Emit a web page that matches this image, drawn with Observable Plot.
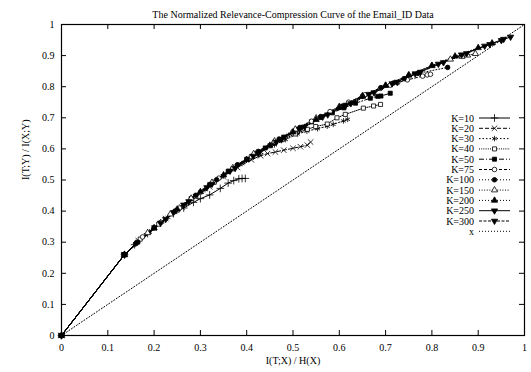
<!DOCTYPE html>
<html>
<head>
<meta charset="utf-8">
<script src="https://cdn.jsdelivr.net/npm/d3@7"></script>
<script src="https://cdn.jsdelivr.net/npm/@observablehq/plot@0.6"></script>
<style>
  html, body { margin: 0; padding: 0; background: #fff; }
  #wrap { position: relative; width: 531px; height: 372px; }
  #wrap svg { position: absolute; left: 0; top: 0; }
</style>
</head>
<body>
<div id="wrap"></div>
<script>
const title = "The Normalized Relevance-Compression Curve of the Email_ID Data";
const xLabel = "I(T;X) / H(X)";
const yLabel = "I(T;Y) / I(X;Y)";
const tickValues = [0, 0.1, 0.2, 0.3, 0.4, 0.5, 0.6, 0.7, 0.8, 0.9, 1];
const tickLabels = ["0", "0.1", "0.2", "0.3", "0.4", "0.5", "0.6", "0.7", "0.8", "0.9", "1"];

const seriesNames = ["K=10", "K=20", "K=30", "K=40", "K=50", "K=75", "K=100", "K=150", "K=200", "K=250", "K=300"];

const K10 = [[0,0],[0.136,0.26],[0.158,0.292],[0.186,0.328],[0.214,0.362],[0.242,0.392],[0.264,0.41],[0.285,0.428],[0.30,0.44],[0.32,0.452],[0.343,0.473],[0.36,0.49],[0.372,0.498],[0.383,0.504],[0.39,0.505],[0.397,0.505]];
const K20 = [[0,0],[0.136,0.26],[0.166,0.305],[0.2,0.345],[0.225,0.376],[0.26,0.413],[0.29,0.445],[0.32,0.478],[0.35,0.51],[0.38,0.54],[0.41,0.565],[0.43,0.578],[0.445,0.585],[0.462,0.59],[0.48,0.596],[0.50,0.602],[0.516,0.607],[0.531,0.612],[0.538,0.622]];
const K30 = [[0,0],[0.136,0.26],[0.16,0.295],[0.19,0.333],[0.23,0.38],[0.27,0.424],[0.31,0.469],[0.35,0.513],[0.39,0.553],[0.43,0.589],[0.46,0.613],[0.484,0.63],[0.51,0.648],[0.53,0.657],[0.553,0.665],[0.574,0.673],[0.587,0.679],[0.609,0.69],[0.618,0.695]];
const K40 = [[0,0],[0.136,0.26],[0.17,0.31],[0.21,0.358],[0.25,0.403],[0.29,0.448],[0.33,0.493],[0.37,0.536],[0.41,0.575],[0.45,0.61],[0.477,0.63],[0.505,0.648],[0.531,0.663],[0.549,0.672],[0.574,0.68],[0.595,0.7],[0.613,0.711],[0.652,0.731],[0.674,0.738],[0.689,0.743]];
const K50 = [[0,0],[0.136,0.26],[0.164,0.3],[0.2,0.346],[0.24,0.395],[0.28,0.44],[0.32,0.485],[0.36,0.528],[0.40,0.567],[0.44,0.603],[0.48,0.638],[0.516,0.667],[0.54,0.687],[0.56,0.701],[0.585,0.716],[0.61,0.732],[0.635,0.747],[0.667,0.763],[0.683,0.769],[0.69,0.77],[0.71,0.779]];
const K75 = [[0,0],[0.136,0.26],[0.175,0.317],[0.215,0.364],[0.255,0.41],[0.3,0.461],[0.34,0.506],[0.38,0.548],[0.42,0.586],[0.46,0.623],[0.5,0.656],[0.54,0.689],[0.58,0.72],[0.62,0.75],[0.655,0.774],[0.689,0.795],[0.71,0.805],[0.726,0.813],[0.747,0.822],[0.78,0.834],[0.79,0.838],[0.797,0.84]];
const K100 = [[0,0],[0.136,0.26],[0.16,0.295],[0.2,0.346],[0.245,0.4],[0.29,0.451],[0.335,0.501],[0.38,0.549],[0.425,0.592],[0.47,0.632],[0.515,0.669],[0.56,0.704],[0.605,0.737],[0.65,0.769],[0.69,0.797],[0.717,0.812],[0.74,0.826],[0.77,0.843],[0.834,0.862]];
const K150 = [[0,0],[0.136,0.26],[0.186,0.33],[0.235,0.39],[0.28,0.441],[0.325,0.492],[0.37,0.539],[0.415,0.584],[0.46,0.625],[0.505,0.663],[0.55,0.699],[0.6,0.736],[0.65,0.77],[0.7,0.804],[0.75,0.837],[0.8,0.867],[0.84,0.888],[0.865,0.897],[0.877,0.901],[0.894,0.906]];
const K200 = [[0,0],[0.136,0.26],[0.2,0.346],[0.25,0.406],[0.3,0.462],[0.35,0.516],[0.4,0.565],[0.45,0.611],[0.5,0.654],[0.55,0.694],[0.6,0.733],[0.65,0.769],[0.7,0.804],[0.75,0.837],[0.8,0.868],[0.85,0.898],[0.9,0.925],[0.93,0.94]];
const K250 = [[0,0],[0.136,0.26],[0.214,0.362],[0.264,0.42],[0.314,0.476],[0.364,0.529],[0.414,0.577],[0.464,0.622],[0.514,0.664],[0.564,0.703],[0.614,0.741],[0.664,0.776],[0.714,0.81],[0.764,0.842],[0.814,0.873],[0.864,0.903],[0.914,0.931],[0.955,0.953]];
const K300 = [[0,0],[0.136,0.26],[0.225,0.374],[0.275,0.431],[0.325,0.487],[0.375,0.538],[0.425,0.585],[0.475,0.63],[0.525,0.671],[0.575,0.71],[0.625,0.746],[0.675,0.781],[0.725,0.815],[0.775,0.847],[0.825,0.878],[0.875,0.907],[0.925,0.936],[0.95,0.949],[0.97,0.96]];
const diagonal = [[0,0],[1,1]];

const seriesData = [K10, K20, K30, K40, K50, K75, K100, K150, K200, K250, K300];

const styles = [
  {symbol: "plus", fill: false, rotate: 0, dash: null},
  {symbol: "times", fill: false, rotate: 0, dash: "4,2"},
  {symbol: "asterisk", fill: false, rotate: 0, dash: "1.5,2"},
  {symbol: "square", fill: false, rotate: 0, dash: "1,1.2"},
  {symbol: "square", fill: true, rotate: 0, dash: "5,2,1,2"},
  {symbol: "circle", fill: false, rotate: 0, dash: "3,2"},
  {symbol: "circle", fill: true, rotate: 0, dash: "1,2"},
  {symbol: "triangle", fill: false, rotate: 0, dash: "1,1.6"},
  {symbol: "triangle", fill: true, rotate: 0, dash: "1,2"},
  {symbol: "triangle", fill: true, rotate: 180, dash: null},
  {symbol: "triangle", fill: true, rotate: 180, dash: "3,1.5"}
];

const font = "Liberation Serif, Times New Roman, serif";
const W = 531, H = 372;
const mL = 61, mR = 7, mT = 24, mB = 37;

const marks = [];
marks.push(Plot.line(diagonal, {x: d => d[0], y: d => d[1], stroke: "black", strokeWidth: 1, strokeDasharray: "1,2"}));
seriesData.forEach((s, i) => {
  const st = styles[i];
  marks.push(Plot.line(s, {x: d => d[0], y: d => d[1], stroke: "black", strokeWidth: 1, strokeDasharray: st.dash}));
});
seriesData.forEach((s, i) => {
  const st = styles[i];
  const isStrokeSym = ["plus", "times", "asterisk"].includes(st.symbol);
  marks.push(Plot.dot(s, {
    x: d => d[0], y: d => d[1], symbol: st.symbol, r: isStrokeSym ? 2.6 : 2.3,
    rotate: st.rotate,
    fill: isStrokeSym ? "none" : (st.fill ? "black" : "white"),
    stroke: "black", strokeWidth: 0.8
  }));
});
const tx = 5 / (W - mL - mR), ty = 5 / (H - mT - mB);
marks.push(Plot.ruleX(tickValues, {x: d => d, y1: 0, y2: ty, stroke: "black", strokeWidth: 1}));
marks.push(Plot.ruleX(tickValues, {x: d => d, y1: 1, y2: 1 - ty, stroke: "black", strokeWidth: 1}));
marks.push(Plot.ruleY(tickValues, {y: d => d, x1: 0, x2: tx, stroke: "black", strokeWidth: 1}));
marks.push(Plot.ruleY(tickValues, {y: d => d, x1: 1, x2: 1 - tx, stroke: "black", strokeWidth: 1}));
marks.push(Plot.frame({stroke: "black", strokeWidth: 1.2}));
marks.push(Plot.axisX(tickValues, {tickSize: 0, tickPadding: 8, tickFormat: (d, i) => tickLabels[i], fontSize: 10, label: null}));
marks.push(Plot.axisY(tickValues, {tickSize: 0, tickPadding: 7, tickFormat: (d, i) => tickLabels[i], fontSize: 10, label: null}));
marks.push(Plot.text([title], {frameAnchor: "top", dy: -14, fontSize: 10, fill: "black"}));
marks.push(Plot.text([xLabel], {frameAnchor: "bottom", dy: 28, fontSize: 10, fill: "black"}));
marks.push(Plot.text([yLabel], {frameAnchor: "left", dx: -36, rotate: -90, fontSize: 10, fill: "black"}));

const chart = Plot.plot({
  width: W, height: H,
  marginLeft: mL, marginRight: mR, marginTop: mT, marginBottom: mB,
  style: {fontFamily: font, fontSize: "10px", color: "black", background: "white"},
  x: {domain: [0, 1], axis: null},
  y: {domain: [0, 1], axis: null},
  marks
});
document.getElementById("wrap").appendChild(chart);

const legendNames = seriesNames.concat(["x"]);
const legendStyles = styles.concat([{symbol: null, dash: "1,2"}]);
const symMap = {plus: d3.symbolPlus, times: d3.symbolTimes, asterisk: d3.symbolAsterisk, square: d3.symbolSquare, circle: d3.symbolCircle, triangle: d3.symbolTriangle};
const lg = d3.select("#wrap").append("svg").attr("width", W).attr("height", H)
  .style("font-family", font).style("font-size", "10px");
const textRight = 474, lineX1 = 479, lineX2 = 510, rowY0 = 118, rowStep = 10.3;
legendNames.forEach((name, i) => {
  const y = rowY0 + i * rowStep;
  const st = legendStyles[i];
  lg.append("text").attr("x", textRight).attr("y", y).attr("dy", "0.35em").attr("text-anchor", "end").attr("fill", "black").text(name);
  lg.append("line").attr("x1", lineX1).attr("x2", lineX2).attr("y1", y).attr("y2", y)
    .attr("stroke", "black").attr("stroke-width", 1).attr("stroke-dasharray", st.dash);
  if (st.symbol) {
    const isStrokeSym = ["plus", "times", "asterisk"].includes(st.symbol);
    const r = isStrokeSym ? 2.6 : 2.3;
    lg.append("path")
      .attr("d", d3.symbol(symMap[st.symbol], Math.PI * r * r)())
      .attr("transform", `translate(${(lineX1 + lineX2) / 2},${y}) rotate(${st.rotate})`)
      .attr("fill", isStrokeSym ? "none" : (st.fill ? "black" : "white"))
      .attr("stroke", "black").attr("stroke-width", 0.8);
  }
});
</script>
</body>
</html>
